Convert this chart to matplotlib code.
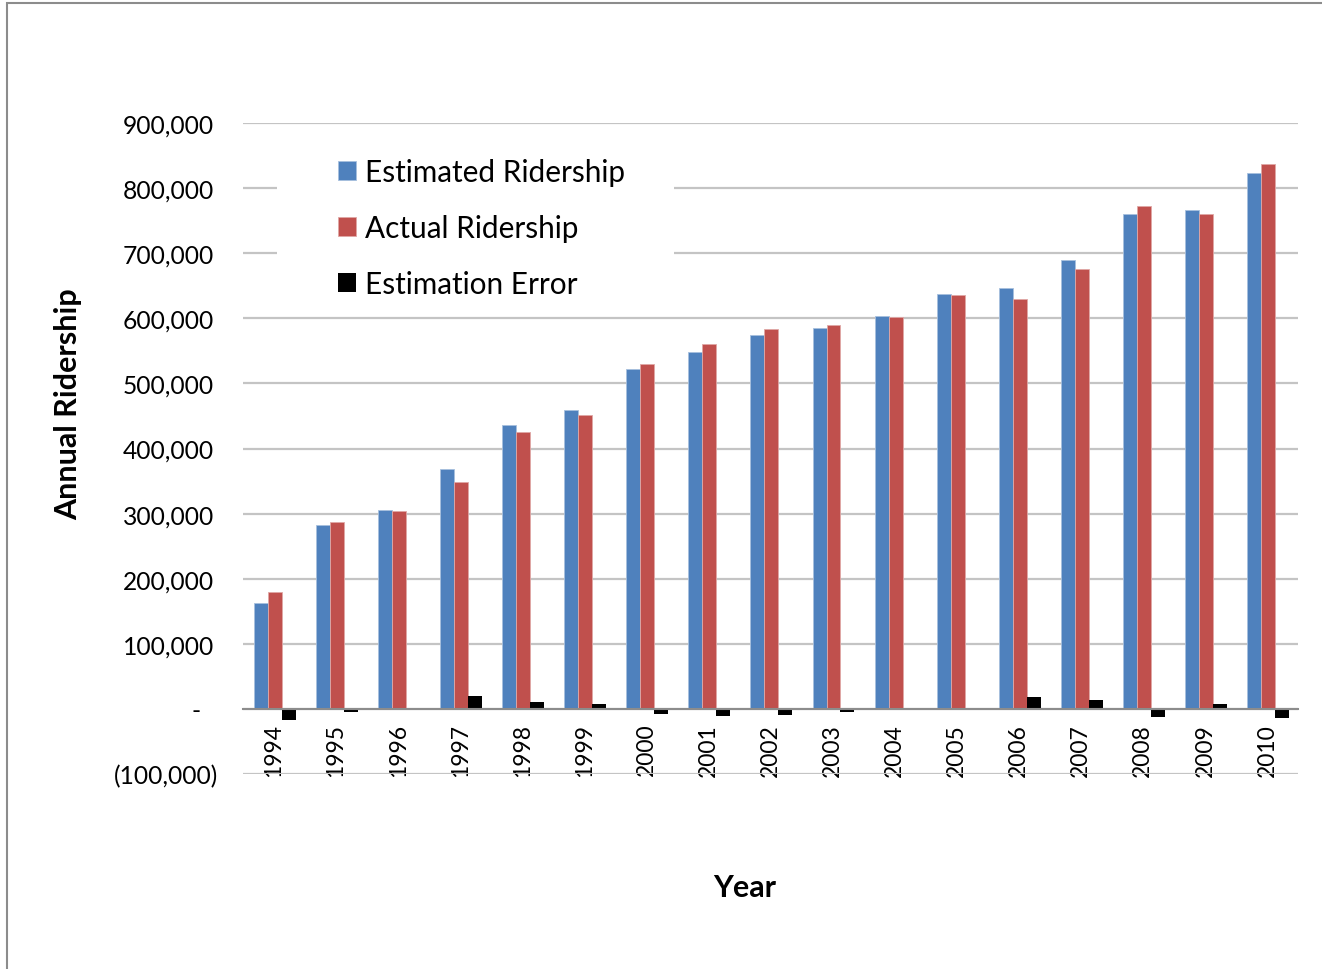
import matplotlib
matplotlib.use("Agg")
import matplotlib.pyplot as plt
import matplotlib.transforms as mtransforms
from matplotlib.patches import Rectangle
import numpy as np

years = ["1994", "1995", "1996", "1997", "1998", "1999", "2000", "2001", "2002",
         "2003", "2004", "2005", "2006", "2007", "2008", "2009", "2010"]
estimated = [163000, 283000, 306000, 369000, 436000, 459000, 522000, 549000, 574000,
             585000, 603000, 637000, 647000, 689000, 760000, 767000, 823000]
actual = [180000, 287000, 304000, 349000, 425000, 452000, 530000, 560000, 584000,
          589000, 602000, 636000, 629000, 676000, 773000, 760000, 837000]
error = [-17000, -4000, 2000, 20000, 11000, 7000, -8000, -11000, -10000,
         -4000, 1000, 1000, 18000, 13000, -13000, 7000, -14000]
yticks = [-100000, 0, 100000, 200000, 300000, 400000, 500000, 600000, 700000, 800000, 900000]
ytick_labels = ["(100,000)", "-", "100,000", "200,000", "300,000", "400,000",
                "500,000", "600,000", "700,000", "800,000", "900,000"]

plt.rcParams["font.family"] = ["Lato", "DejaVu Sans"]

W, H = 1322, 970
fig = plt.figure(figsize=(W / 100, H / 100), dpi=100)
fig.patch.set_facecolor("white")

# outer chart frame (top and left edges visible)
fig.patches.append(Rectangle((7 / W, -0.1), 1.2, 1 - 4 / H + 0.1,
                             transform=fig.transFigure, fill=False,
                             edgecolor="#8c8c8c", linewidth=1.5))

ax = fig.add_axes([243 / W, 1 - 775 / H, (1298 - 243) / W, (775 - 124) / H])

x = np.arange(len(years))
w = 0.225
shift = 0.015
ax.bar(x - w + shift, estimated, w, color="#4F81BD", edgecolor="#A7C0DE", linewidth=0.6, label="Estimated Ridership", zorder=2)
ax.bar(x + shift, actual, w, color="#C0504D", edgecolor="#E0A8A6", linewidth=0.6, label="Actual Ridership", zorder=2)
ax.bar(x + w + shift, error, w, color="black", label="Estimation Error", zorder=2)

ax.set_xlim(-0.5, len(years) - 0.5)
ax.set_ylim(-100000, 900000)
ax.set_yticks(yticks)
ax.set_yticklabels(ytick_labels, fontsize=17.7)
ax.yaxis.grid(True, color="#c4c4c4", linewidth=1.6)
ax.set_axisbelow(True)
ax.tick_params(axis="y", length=0, pad=21)

# nudge individual y labels like accounting number format
for lab, txt in zip(ax.get_yticklabels(), ytick_labels):
    if txt == "-":
        off = mtransforms.ScaledTranslation(-13 / 100, 0, fig.dpi_scale_trans)
        lab.set_transform(lab.get_transform() + off)
    elif txt.startswith("("):
        off = mtransforms.ScaledTranslation(4 / 100, 0, fig.dpi_scale_trans)
        lab.set_transform(lab.get_transform() + off)

for s in ["top", "right", "left"]:
    ax.spines[s].set_visible(False)
ax.spines["bottom"].set_position(("data", 0))
ax.spines["bottom"].set_color("#8c8c8c")
ax.spines["bottom"].set_linewidth(1.5)
ax.set_xticks(x)
ax.set_xticklabels(years, rotation=90, fontsize=16.5, va="top", ha="center")
ax.tick_params(axis="x", length=0, pad=10)

# white backdrop behind the legend
ax.add_patch(Rectangle((0.032, 0.714), 0.377, 0.262, transform=ax.transAxes,
                       facecolor="white", edgecolor="none", zorder=0.8))
leg = ax.legend(loc="upper left", bbox_to_anchor=(0.09, 0.946), frameon=False,
                fontsize=21.4, handlelength=0.62, handleheight=0.62,
                handletextpad=0.3, labelspacing=0.94, borderpad=0, borderaxespad=0)

fig.text(68 / W, 1 - 404 / H, "Annual Ridership", rotation=90, fontsize=22,
         fontweight="bold", ha="center", va="center")
fig.text(745 / W, 1 - 888 / H, "Year", fontsize=22, fontweight="bold",
         ha="center", va="center")

fig.savefig("out.png", dpi=100, facecolor="white")
